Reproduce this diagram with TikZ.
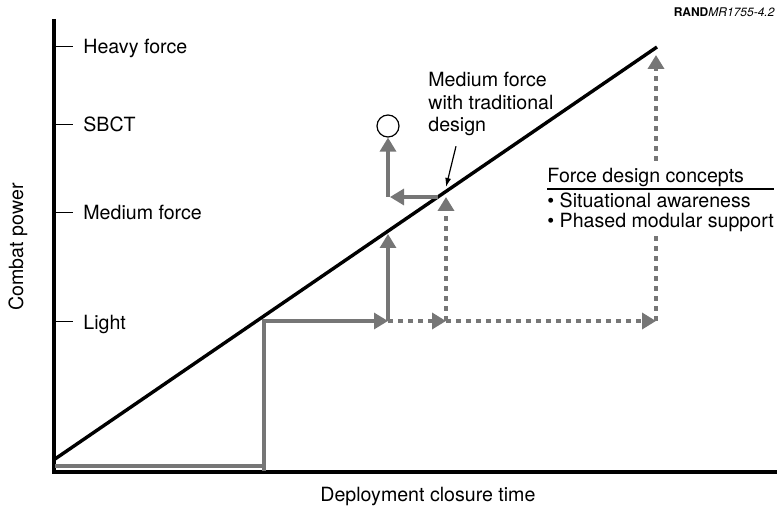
\documentclass[tikz,border=0pt]{standalone}
\usepackage{fontspec}
\setmainfont{TeX Gyre Heros}
\usepackage{tikz}
\usetikzlibrary{arrows.meta,positioning}
\definecolor{gr}{RGB}{118,118,118}

\begin{document}
\begin{tikzpicture}[x=0.5pt,y=-0.5pt,font=\fontsize{9.8}{11.2}\selectfont,
    axis/.style={line width=1.7pt},
    gline/.style={draw=gr,line width=1.6pt},
    gdot/.style={draw=gr,line width=2pt,dash pattern=on 2.5pt off 2.5pt},
    garrow/.style={-{Triangle[length=7pt,width=8pt]}},
    lbl/.style={anchor=base west,inner sep=0pt}]
\useasboundingbox (0,0) rectangle (778,508);
% axes
\coordinate (ytop) at (54,19);
\coordinate (o) at (54,472);
\coordinate (xend) at (777,472);
\draw[axis] (ytop) -- (o) -- (xend);
\foreach \yy/\txt/\nm in {47/Heavy force/heavy,125/SBCT/sbct,213/Medium force/medium,322/Light/light}{
  \draw[line width=0.5pt] (54,\yy) -- (73,\yy);
  \node[lbl] (\nm) at (83,\yy+7) {\txt};
}
\node[rotate=90] (ylab) at (18,247) {Combat power};
\node[lbl] (xlab) at (320,502) {Deployment closure time};
\node[anchor=base east,inner sep=0pt,font=\fontsize{6}{7}\selectfont] (rand) at (775,17) {\textbf{RAND}\textit{MR1755-4.2}};
% diagonal
\coordinate (d0) at (55,459);
\coordinate (d1) at (657,47);
\draw[axis] (d0) -- (d1);
% gray steps
\coordinate (s0) at (55,466);
\coordinate (s1) at (264,466);
\coordinate (s2) at (264,471);
\coordinate (l1) at (388,321);
\coordinate (l2) at (446,321);
\coordinate (l3) at (656,321);
\coordinate (m1) at (388,234);
\coordinate (m2) at (446,197);
\coordinate (m3) at (438,197);
\coordinate (m4) at (388,197);
\coordinate (h1) at (656,55);
\draw[gline] (s0) -- (s1);
\draw[gline,garrow] (s2) |- (l1);
\draw[gline,garrow] (l1) -- (m1);
\draw[gdot,garrow] (l1) -- (l2);
\draw[gdot,garrow] (l2) -- (l3);
\draw[gdot,garrow] (l2) -- (m2);
\draw[gdot,garrow] (l3) -- (h1);
\draw[gline,garrow] (m3) -- ([xshift=1pt]m4);
\node[circle,draw,line width=0.6pt,minimum size=11pt,inner sep=0pt] (sbctpt) at (388,126) {};
\draw[gline,garrow] (m4) -- (sbctpt.south);
% labels
\node[anchor=north west,align=left,inner sep=0pt] (medtrad) at (428,72) {Medium force\\with traditional\\design};
\coordinate (ptr) at (446,187);
\draw[line width=0.6pt,-{Latex[length=4.5pt,width=3pt]}] ([xshift=14pt,yshift=-5pt]medtrad.south west) -- (ptr);
\fill[white] (640,165) rectangle (674,234);
\node[lbl] (fdc) at (547,183) {Force design concepts};
\draw[line width=0.6pt] (547,189) -- (774,189);
\node[lbl] (aware) at (547,208) {\textbullet{} Situational awareness};
\node[lbl] (phased) at (547,228) {\textbullet{} Phased modular support};
\end{tikzpicture}
\end{document}
